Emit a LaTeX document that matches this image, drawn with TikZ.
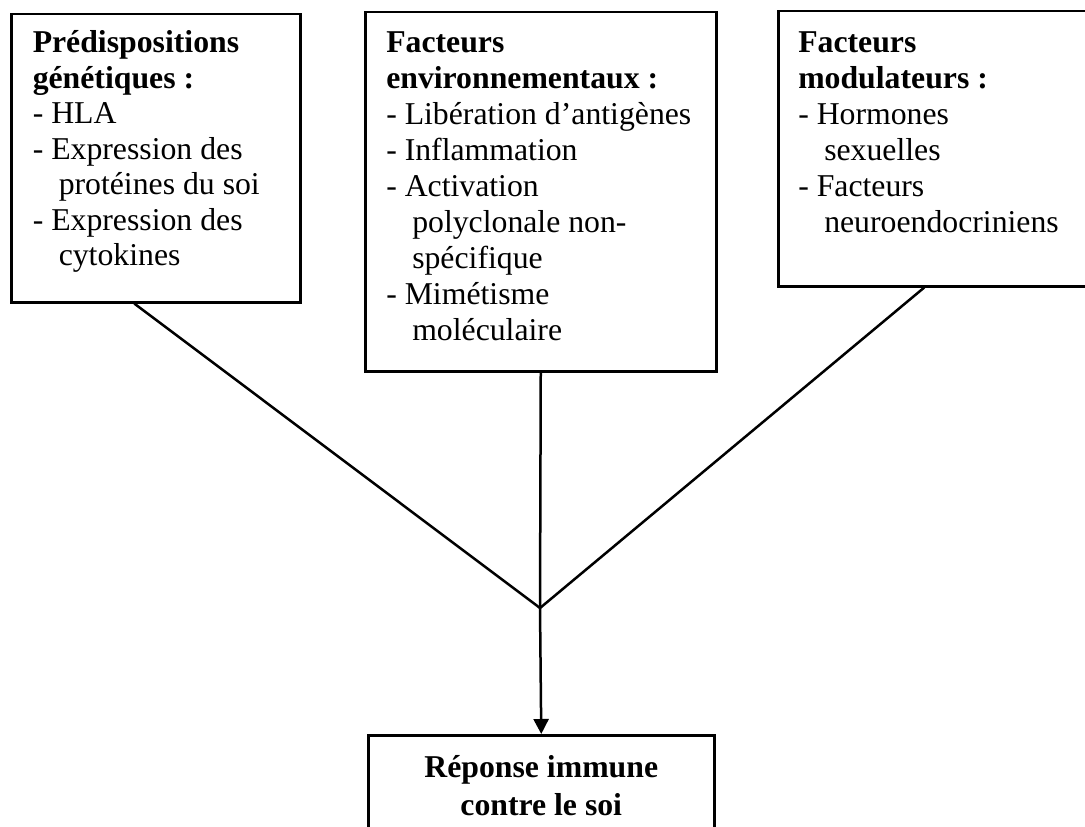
\documentclass[tikz,border=0pt]{standalone}
\usepackage{fontspec}
\setmainfont{Liberation Serif}
\usepackage{tikz}
\usetikzlibrary{arrows.meta}
\usetikzlibrary{positioning}
\newcommand{\indnt}{\hspace*{10.4pt}}

\begin{document}
\begin{tikzpicture}[x=0.4pt,y=-0.4pt,line width=1pt,
  frame/.style={draw,inner sep=0pt,anchor=north west},
  txt/.style={inner sep=0pt,align=left,anchor=north west,font=\fontsize{12.7}{14.2}\selectfont}]
\clip (0,0) rectangle (1085,826);
  \node[frame,minimum width=115.6pt,minimum height=115.2pt] at (10,13) (genet){};
  \node[txt] at ([xshift=8.6pt,yshift=-6.5pt]genet.north west) (genettxt){\textbf{Prédispositions}\\\textbf{génétiques :}\\- HLA\\- Expression des\\\indnt protéines du soi\\- Expression des\\\indnt cytokines};

  \node[frame,minimum width=140.4pt,minimum height=143.6pt] at (364,11) (envir){};
  \node[txt,font=\fontsize{12.7}{14.4}\selectfont] at ([xshift=8.4pt,yshift=-7.8pt]envir.north west) (envirtxt){\textbf{Facteurs}\\\textbf{environnementaux :}\\- Libération d’antigènes\\- Inflammation\\- Activation\\\indnt polyclonale non-\\\indnt spécifique\\- Mimétisme\\\indnt moléculaire};

  \node[frame,minimum width=129.2pt,minimum height=110pt] at (777,10) (modul){};
  \node[txt,font=\fontsize{12.7}{14.4}\selectfont] at ([xshift=8pt,yshift=-8pt]modul.north west) (modultxt){\textbf{Facteurs}\\\textbf{modulateurs :}\\- Hormones\\\indnt sexuelles\\- Facteurs\\\indnt neuroendocriniens};

  \node[frame,minimum width=138.4pt,minimum height=58.4pt] at (367,734) (reponse){};
  \node[txt,align=center,anchor=north,font=\fontsize{12.7}{15.2}\selectfont] at ([yshift=-8.2pt]reponse.north) (reptxt){\textbf{Réponse immune}\\\textbf{contre le soi}};

  \coordinate (join) at (540,608);
  \draw ([xshift=-8.6pt]genet.south) -- (join);
  \draw (envir.south) -- (join);
  \draw ([xshift=-6.2pt]modul.south) -- (join);
  \draw [-{Triangle[length=6pt,width=6pt]}] (join) -- (reponse.north);
\end{tikzpicture}
\end{document}
